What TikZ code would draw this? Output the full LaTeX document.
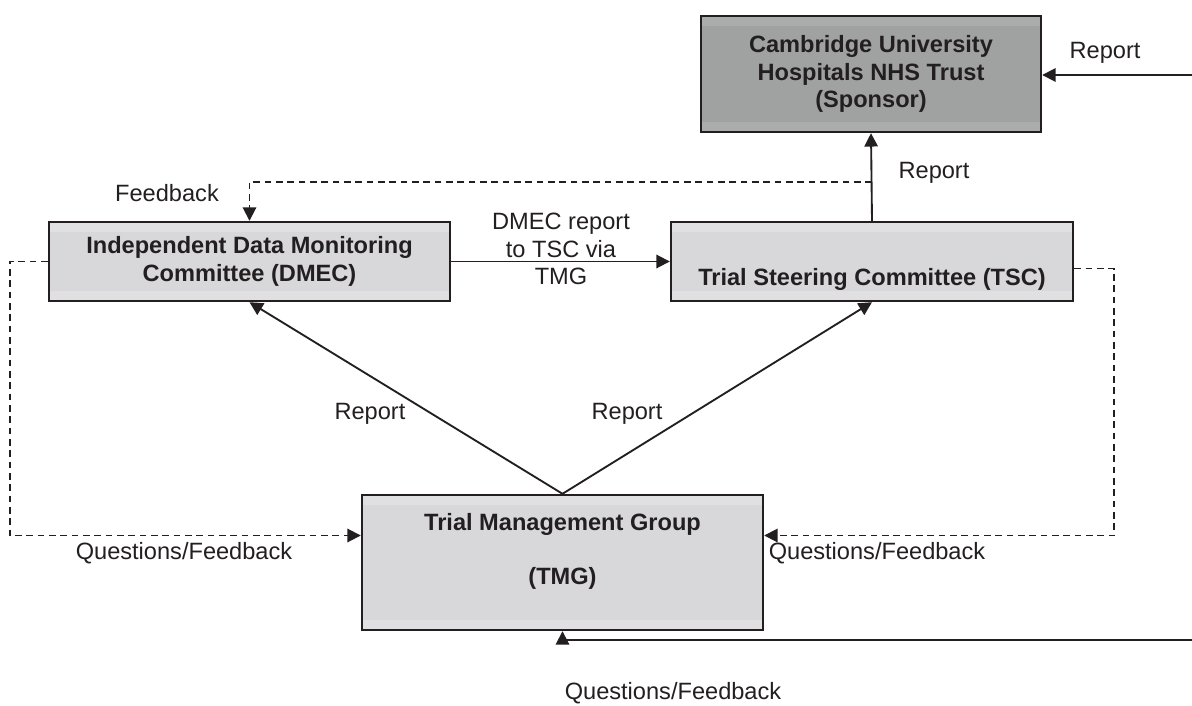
\documentclass[tikz,border=0pt]{standalone}
\usepackage{fontspec}
\setmainfont{Liberation Sans}
\usetikzlibrary{arrows.meta,calc}

\definecolor{inkcol}{RGB}{35,31,32}
\definecolor{lightstrip}{RGB}{224,224,226}
\definecolor{lightfill}{RGB}{216,216,218}
\definecolor{darkstrip}{RGB}{171,172,172}
\definecolor{darkfill}{RGB}{160,162,162}

\tikzset{every picture/.style={line width=1.4pt}}
\tikzset{
  panel/.style 2 args={draw=inkcol, line width=1.8pt, fill=#1, align=center, inner sep=0pt,
    font=\fontsize{17.7pt}{20.5pt}\selectfont\bfseries,
    path picture={\fill[#2] ([yshift=-7.5pt]path picture bounding box.north west) rectangle ([yshift=7.5pt]path picture bounding box.south east);}},
  lbl/.style={inner sep=0.75pt, align=center, font=\fontsize{17.7pt}{20.5pt}\selectfont},
  tip/.style={-{Triangle[length=10pt,width=10pt]}},
  dashln/.style={dash pattern={on 5pt off 3.5pt}}
}

\begin{document}
\begin{tikzpicture}[x=0.75pt,y=0.75pt,yscale=-1,xscale=1, draw=inkcol, text=inkcol]
\useasboundingbox (0,0) rectangle (1192,706);

%Shape: Rectangle [sponsor]
\node[panel={darkstrip}{darkfill}, minimum width=255pt, minimum height=87pt] (spon) at (871,74) {Cambridge University\\Hospitals NHS Trust\\(Sponsor)};
%Shape: Rectangle [dmec]
\node[panel={lightstrip}{lightfill}, minimum width=300.75pt, minimum height=59.25pt] (dmec) at (249.5,261.5) {Independent Data Monitoring\\Committee (DMEC)};
%Shape: Rectangle [tsc]
\node[panel={lightstrip}{lightfill}, minimum width=301.5pt, minimum height=59.25pt] (tsc) at (872,261.5) {\raisebox{-13.5pt}[\height][\depth]{Trial Steering Committee (TSC)}};
%Shape: Rectangle [tmg]
\node[panel={lightstrip}{lightfill}, minimum width=300.75pt, minimum height=101.25pt] (tmg) at (562.5,562.5) {Trial Management Group\\ \mbox{}\\(TMG)\\ \mbox{}};

%Free ends
\coordinate (rin) at (1192,75);
\coordinate (bin) at (1192,640);
\coordinate (fb) at ($(tsc.north)+(0,-39)$);
\coordinate (qleft) at ($(tmg.west)+(0,-27)$);
\coordinate (qright) at ($(tmg.east)+(0,-27)$);

%Straight Lines
\draw[tip] (rin) -- (rin -| spon.east);
\draw[tip] (tsc.north) -- (spon.south);
\draw[dashln, tip] (fb) -| (dmec.north);
\draw[tip] (dmec.east) -- (tsc.west);
\draw[tip] (tmg.north) -- (dmec.south);
\draw[tip] (tmg.north) -- (tsc.south);
\draw[dashln, tip] (dmec.west) -- ++(-38,0) |- (qleft);
\draw[dashln, tip] ($(tsc.east)+(0,7)$) -- ++(40,0) |- (qright);
\draw[tip] (bin) -| (tmg.south);

% Text Node
\node[lbl] (rptspon) at (1105,53) {Report};
% Text Node
\node[lbl] (rpttsc) at (934,173) {Report};
% Text Node
\node[lbl] (fbdmec) at (167,193) {Feedback};
% Text Node
\node[lbl] (viatmg) at (561,249) {DMEC report\\to TSC via\\TMG};
% Text Node
\node[lbl] (rptleft) at (370,414) {Report};
% Text Node
\node[lbl] (rptright) at (627,414) {Report};
% Text Node
\node[lbl] (qfleft) at (184,553) {Questions/Feedback};
% Text Node
\node[lbl] (qfright) at (877,553) {Questions/Feedback};
% Text Node
\node[lbl] (qfbottom) at (673,693) {Questions/Feedback};
\end{tikzpicture}
\end{document}
